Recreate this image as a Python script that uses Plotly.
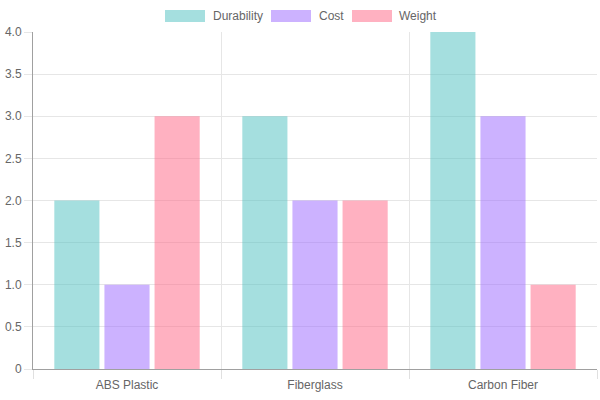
import plotly.graph_objects as go

categories = ["ABS Plastic", "Fiberglass", "Carbon Fiber"]
series_names = ["Durability", "Cost", "Weight"]
durability = [2, 3, 4]
cost = [1, 2, 3]
weight = [3, 2, 1]
y_tickvals = [0, 0.5, 1, 1.5, 2, 2.5, 3, 3.5, 4]
y_ticktext = ["0", "0.5", "1.0", "1.5", "2.0", "2.5", "3.0", "3.5", "4.0"]

fills = ["rgba(75,192,192,0.5)", "rgba(153,102,255,0.5)", "rgba(255,99,132,0.5)"]

fig = go.Figure()
for name, vals, col in zip(series_names, [durability, cost, weight], fills):
    fig.add_trace(go.Bar(x=categories, y=vals, name=name, marker=dict(color=col, line=dict(width=0)),
                         showlegend=False))

FONT = "Liberation Sans, Arial, sans-serif"
fig.update_layout(
    width=600, height=400,
    margin=dict(l=33, r=3, t=32, b=31),
    paper_bgcolor="white", plot_bgcolor="white",
    barmode="group", bargap=0.2, bargroupgap=0.1,
    font=dict(family=FONT, size=12, color="#666"),
)
fig.update_xaxes(
    type="category", range=[-0.5, 2.5], tickson="boundaries",
    ticks="outside", ticklen=9, tickcolor="#e0e0e0",
    ticklabelstandoff=5,
    showgrid=True, gridcolor="#e6e6e6", gridwidth=1,
    showline=True, linecolor="#a0a0a0", linewidth=1,
    tickfont=dict(family=FONT, size=12, color="#666"),
)
fig.update_yaxes(
    range=[0, 4], tickvals=y_tickvals, ticktext=y_ticktext,
    ticks="outside", ticklen=8, tickcolor="#e6e6e6",
    showgrid=True, gridcolor="#e6e6e6", gridwidth=1,
    showline=True, linecolor="#a0a0a0", linewidth=1,
    zeroline=False,
    tickfont=dict(family=FONT, size=12, color="#666"),
)

# Chart.js-style legend (wide colour boxes) at top centre
legend_items = [(165, 211), (271, 317), (352, 397)]
for (bx, tx), name, col in zip(legend_items, series_names, fills):
    fig.add_shape(type="rect", xref="paper", yref="paper",
                  x0=(bx - 33) / 564, x1=(bx + 40 - 33) / 564,
                  y0=(369 - 22) / 337, y1=(369 - 10) / 337,
                  fillcolor=col, line=dict(width=0))
    fig.add_annotation(xref="paper", yref="paper", x=(tx - 33) / 564, y=(369 - 16) / 337,
                       text=name, showarrow=False, xanchor="left", yanchor="middle",
                       font=dict(family=FONT, size=12, color="#666"))

fig.write_html("out.html")
